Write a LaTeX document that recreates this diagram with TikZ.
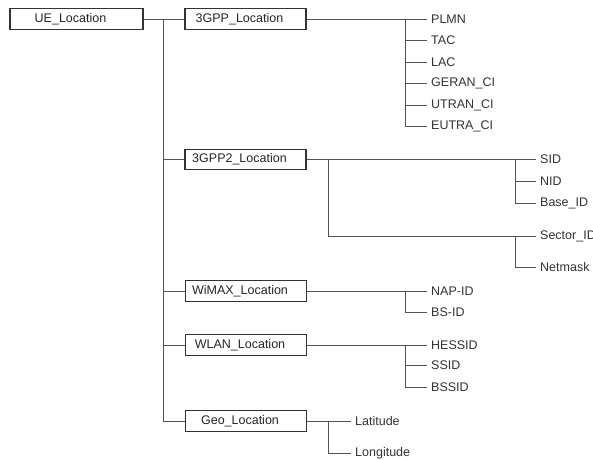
\documentclass[tikz,border=0pt]{standalone}
\usepackage{fontspec}
\setmainfont{Liberation Sans}
\begin{document}
\begin{tikzpicture}[x=1pt,y=-1pt,
  font=\fontsize{12.5}{14}\selectfont,
  conn/.style={draw=black!68,line width=0.9pt},
  box/.style={draw=black!80,line width=1.1pt,minimum width=121pt,minimum height=20.5pt,inner sep=0pt,text=black!85},
  boxtext/.style={text=black!85,xshift=-6pt},
  leaf/.style={anchor=west,inner xsep=4pt,inner ysep=1pt,text=black!80}]
\useasboundingbox[fill=white] (0,0) rectangle (593,459);

% class boxes
\node[box,minimum width=133pt,label={[boxtext]center:UE\_Location}] (ue) at (76.5,19) {};
\node[box,label={[boxtext]center:3GPP\_Location}] (g3) at (245.5,19) {};
\node[box,label={[boxtext]center:3GPP2\_Location}] (g32) at (245.5,159.5) {};
\node[box,label={[boxtext]center:WiMAX\_Location}] (wimax) at (246,291) {};
\node[box,label={[boxtext]center:WLAN\_Location}] (wlan) at (246,345) {};
\node[box,label={[boxtext]center:Geo\_Location}] (geo) at (246,421) {};

% 3GPP leaves
\node[leaf] (plmn) at (427,19) {PLMN};
\node[leaf] (tac) at (427,40.5) {TAC};
\node[leaf] (lac) at (427,62) {LAC};
\node[leaf] (geran) at (427,83.5) {GERAN\_CI};
\node[leaf] (utran) at (427,105) {UTRAN\_CI};
\node[leaf] (eutra) at (427,126.5) {EUTRA\_CI};

% 3GPP2 leaves
\node[leaf] (sid) at (536,159.5) {SID};
\node[leaf] (nid) at (536,181.5) {NID};
\node[leaf] (base) at (536,203) {Base\_ID};
\node[leaf] (sector) at (536,236) {Sector\_ID};
\node[leaf] (netmask) at (536,267) {Netmask};

% WiMAX leaves
\node[leaf] (nap) at (427,291) {NAP-ID};
\node[leaf] (bs) at (427,312) {BS-ID};

% WLAN leaves
\node[leaf] (hessid) at (427,345) {HESSID};
\node[leaf] (ssid) at (427,365.5) {SSID};
\node[leaf] (bssid) at (427,387) {BSSID};

% Geo leaves
\node[leaf] (lat) at (351,421) {Latitude};
\node[leaf] (lon) at (351,453) {Longitude};

% branch points
\coordinate (trunk) at (163,19);
\coordinate (j3) at (405,19);
\coordinate (j32a) at (328,159.5);
\coordinate (j32b) at (515,159.5);
\coordinate (j32c) at (515,236);
\coordinate (jwx) at (405,291);
\coordinate (jwl) at (405,345);
\coordinate (jgeo) at (328,421);

% main trunk
\draw[conn] (ue.east) -- (g3.west);
\draw[conn] (trunk) |- (geo.west)
  (trunk |- g32.west) -- (g32.west)
  (trunk |- wimax.west) -- (wimax.west)
  (trunk |- wlan.west) -- (wlan.west);

% 3GPP branch
\draw[conn] (g3.east) -- (plmn.west);
\draw[conn] (j3) |- (eutra.west);
\foreach \n in {tac,lac,geran,utran} \draw[conn] (j3 |- \n.west) -- (\n.west);

% 3GPP2 branch
\draw[conn] (g32.east) -- (sid.west);
\draw[conn] (j32a) |- (sector.west);
\draw[conn] (j32b) |- (base.west) (j32b |- nid.west) -- (nid.west);
\draw[conn] (j32c) |- (netmask.west);

% WiMAX branch
\draw[conn] (wimax.east) -- (nap.west);
\draw[conn] (jwx) |- (bs.west);

% WLAN branch
\draw[conn] (wlan.east) -- (hessid.west);
\draw[conn] (jwl) |- (bssid.west) (jwl |- ssid.west) -- (ssid.west);

% Geo branch
\draw[conn] (geo.east) -- (lat.west);
\draw[conn] (jgeo) |- (lon.west);
\end{tikzpicture}
\end{document}
